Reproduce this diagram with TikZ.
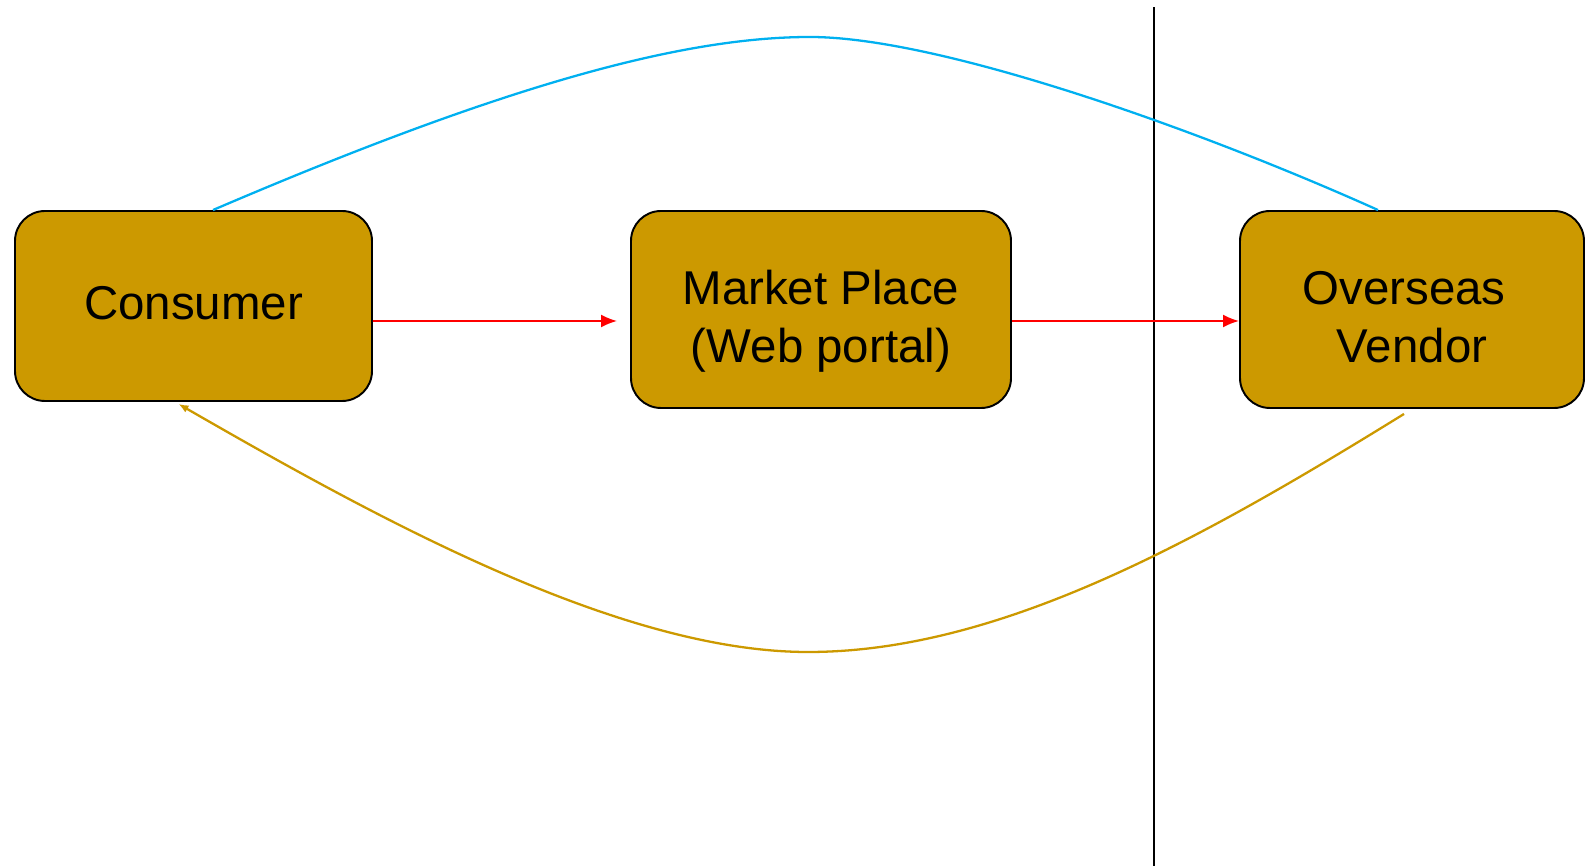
\documentclass[tikz,border=0pt]{standalone}
\usepackage{fontspec}
\setmainfont{Liberation Sans}
\usepackage{tikz}
\usetikzlibrary{shapes,positioning,arrows.meta}

\definecolor{boxgold}{HTML}{CC9900}
\definecolor{linkblue}{HTML}{00B0F0}

\begin{document}
\begin{tikzpicture}[
    party/.style={draw,line width=1.1pt,fill=boxgold,rounded corners=0.6cm},
    partytext/.style={align=center,inner sep=0pt,font=\fontsize{27}{33}\selectfont},
    flow/.style={red,line width=1.1pt,-{Latex[length=0.32cm,width=0.26cm]}}
  ]
  \useasboundingbox (0,0) rectangle (31.72,17.32);

  \node[party,minimum height=3.8cm, minimum width=7.14cm] (consumer) at (3.87,11.2) {};
  \node[party,minimum height=3.94cm,minimum width=7.6cm]  (market)   at (16.42,11.13) {};
  \node[party,minimum height=3.94cm,minimum width=6.88cm] (vendor)   at (28.24,11.13) {};

  \node[partytext] (consumertext) at ([yshift=0.06cm]consumer.center) {Consumer};
  \node[partytext] (markettext)   at ([yshift=-0.24cm]market.center) {Market Place\\(Web portal)};
  \node[partytext] (vendortext)   at ([yshift=-0.16cm]vendor.center) {Overseas\hspace*{0.32cm}\\Vendor};

  % border line
  \draw[line width=1.1pt] (23.08,0) -- (23.08,17.18);

  \draw[flow,shorten >=0.26cm] ([yshift=-0.3cm]consumer.east) -- ([yshift=-0.23cm]market.west);
  \draw[flow] ([yshift=-0.23cm]market.east) -- ([yshift=-0.23cm]vendor.west);

  \draw[linkblue,line width=1.3pt] ([xshift=0.39cm]consumer.north)
    .. controls (10,15.58) and (13.6,16.58) .. (16.2,16.58)
    .. controls (18.8,16.58) and (24,14.72) .. ([xshift=-0.68cm]vendor.north);

  \draw[boxgold,line width=1.3pt,-{Latex[length=0.2cm,width=0.16cm]}] ([xshift=-0.16cm,yshift=-0.1cm]vendor.south)
    .. controls (24,6.52) and (20,4.28) .. (16.16,4.28)
    .. controls (12.4,4.28) and (7.6,6.92) .. ([xshift=-0.3cm,yshift=-0.04cm]consumer.south);
\end{tikzpicture}
\end{document}
